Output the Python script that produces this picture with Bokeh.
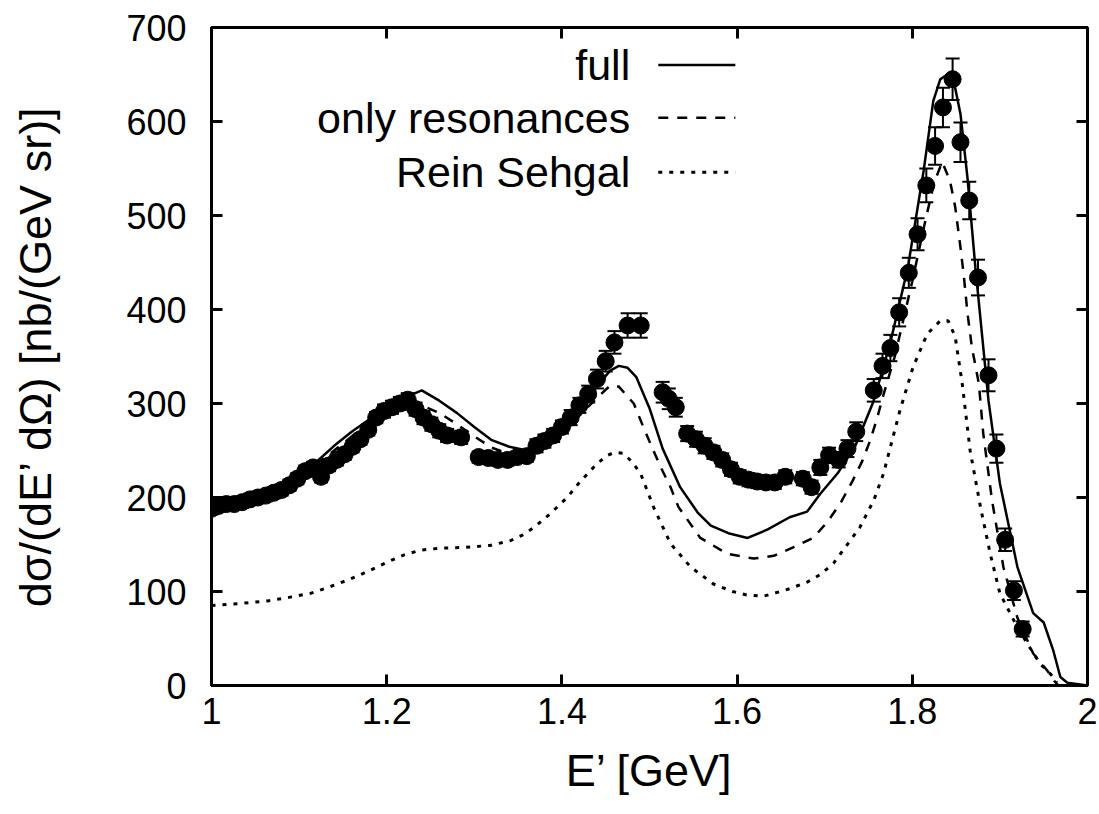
from bokeh.plotting import figure
from bokeh.models import Range1d, LinearAxis, FixedTicker, Whisker, TeeHead, ColumnDataSource, Label, CustomJSTickFormatter
from bokeh.embed import file_html
from bokeh.resources import INLINE

# ---------------- data ----------------
data_E = [1.000, 1.008, 1.017, 1.026, 1.035, 1.044, 1.053, 1.062, 1.071, 1.080,
          1.089, 1.098, 1.107, 1.116, 1.125, 1.134, 1.143, 1.152, 1.161, 1.170,
          1.179, 1.188, 1.197, 1.206, 1.215, 1.224, 1.233, 1.242, 1.251, 1.260,
          1.269, 1.285, 1.305, 1.316, 1.327, 1.338, 1.349, 1.360, 1.371, 1.380,
          1.390, 1.400, 1.410, 1.420, 1.430, 1.440, 1.450, 1.460, 1.475, 1.490,
          1.515, 1.522, 1.530, 1.543, 1.553, 1.563, 1.573, 1.583, 1.593, 1.603,
          1.613, 1.623, 1.633, 1.643, 1.655, 1.675, 1.685, 1.695, 1.705, 1.716,
          1.726, 1.736, 1.756, 1.766, 1.775, 1.785, 1.796, 1.806, 1.816, 1.826,
          1.835, 1.846, 1.855, 1.865, 1.875, 1.887, 1.896, 1.906, 1.916, 1.926]
data_v = [188, 191, 193, 193, 195, 198, 200, 202, 205, 208,
          213, 220, 228, 232, 222, 234, 240, 246, 254, 262,
          272, 285, 292, 296, 300, 304, 294, 285, 278, 271,
          266, 264, 243, 242, 240, 240, 243, 244, 255, 260,
          266, 275, 285, 298, 310, 326, 345, 365, 383, 383,
          312, 305, 296, 268, 262, 255, 248, 240, 230, 222,
          219, 217, 216, 216, 222, 220, 211, 232, 245, 240,
          252, 270, 314, 340, 359, 397, 439, 480, 532, 574,
          615, 645, 578, 516, 434, 330, 252, 155, 101, 60]
data_err = [6, 6, 6, 6, 6, 6, 6, 6, 6, 6,
            6, 6, 6, 6, 6, 6, 6, 6, 6, 6,
            6, 6, 7, 7, 7, 7, 7, 7, 7, 7,
            7, 7, 6, 6, 6, 6, 6, 6, 7, 7,
            7, 7, 8, 8, 9, 10, 11, 12, 13, 13,
            11, 11, 10, 8, 8, 8, 7, 7, 7, 7,
            7, 7, 7, 7, 7, 7, 7, 8, 8, 8,
            9, 10, 12, 13, 14, 15, 16, 17, 18, 20,
            21, 22, 21, 20, 19, 17, 15, 12, 10, 8]

full_E = [1.00, 1.02, 1.04, 1.06, 1.08, 1.10, 1.12, 1.14, 1.16, 1.18,
          1.20, 1.22, 1.24, 1.26, 1.28, 1.30, 1.32, 1.34, 1.36, 1.38,
          1.40, 1.42, 1.44, 1.455, 1.465, 1.475, 1.485, 1.50, 1.515, 1.535,
          1.555, 1.57, 1.59, 1.612, 1.635, 1.66, 1.68, 1.695, 1.715, 1.735,
          1.756, 1.775, 1.795, 1.813, 1.824, 1.832, 1.84, 1.848, 1.855, 1.863,
          1.872, 1.887, 1.90, 1.92, 1.938, 1.95, 1.961, 1.969, 1.977, 2.00]
full_v = [190, 194, 198, 204, 212, 222, 238, 255, 270, 283,
          296, 306, 314, 303, 290, 275, 261, 254, 250, 256,
          270, 292, 318, 335, 340, 338, 328, 295, 252, 211,
          184, 170, 162, 157, 166, 179, 185, 204, 226, 255,
          303, 365, 445, 548, 622, 645, 650, 640, 608, 540,
          445, 303, 215, 126, 77, 67, 37, 9, 3, 0]

res_E = [1.00, 1.02, 1.04, 1.06, 1.08, 1.10, 1.12, 1.14, 1.16, 1.18,
         1.20, 1.22, 1.24, 1.26, 1.28, 1.30, 1.32, 1.34, 1.36, 1.38,
         1.40, 1.42, 1.44, 1.455, 1.465, 1.482, 1.493, 1.503, 1.513, 1.524,
         1.533, 1.558, 1.589, 1.619, 1.642, 1.664, 1.687, 1.703, 1.718, 1.732,
         1.743, 1.752, 1.76, 1.767, 1.78, 1.80, 1.815, 1.825, 1.834, 1.843,
         1.849, 1.855, 1.859, 1.863, 1.868, 1.876, 1.881, 1.891, 1.904, 1.92,
         1.938, 1.954, 1.962, 1.967]
res_v = [190, 194, 198, 204, 212, 222, 236, 250, 265, 280,
         293, 302, 298, 290, 278, 265, 253, 246, 246, 254,
         268, 287, 306, 319, 318, 300, 275, 253, 232, 211,
         190, 157, 140, 135, 138, 147, 157, 174, 194, 218,
         239, 261, 285, 309, 350, 430, 495, 535, 557, 537,
         509, 466, 434, 396, 360, 321, 268, 197, 126, 72,
         34, 16, 5, 0]

rs_E = [1.00, 1.03, 1.064, 1.09, 1.113, 1.135, 1.155, 1.18, 1.20, 1.22,
        1.239, 1.26, 1.29, 1.318, 1.341, 1.355, 1.368, 1.387, 1.406, 1.42,
        1.436, 1.45, 1.46, 1.47, 1.48, 1.49, 1.505, 1.524, 1.547, 1.573,
        1.595, 1.612, 1.63, 1.642, 1.66, 1.68, 1.695, 1.71, 1.729, 1.74,
        1.756, 1.767, 1.786, 1.801, 1.817, 1.832, 1.841, 1.849, 1.857, 1.866,
        1.878, 1.889, 1.90, 1.916, 1.931, 1.946, 1.958, 1.965]
rs_v = [85, 87, 90, 94, 98, 105, 112, 122, 131, 139,
        144, 146, 147, 149, 154, 160, 168, 183, 200, 216,
        232, 244, 248, 247, 238, 225, 189, 151, 126, 108,
        100, 96, 95, 98, 103, 110, 118, 130, 154, 168,
        197, 225, 293, 339, 374, 388, 388, 371, 321, 250,
        189, 140, 98, 69, 45, 23, 12, 3]

x_ticks = [1.0, 1.2, 1.4, 1.6, 1.8, 2.0]
y_ticks = [0, 100, 200, 300, 400, 500, 600, 700]
legend_labels = ["full", "only resonances", "Rein Sehgal"]

# ---------------- style ----------------
FONT = "Liberation Sans"
TICK_FS = "36px"
LAB_FS = "45px"
LEG_FS = "43px"
DASH = "10 9"
DOT = "4 7"

p = figure(width=1099, height=814, x_range=Range1d(1, 2), y_range=Range1d(0, 700),
           output_backend="svg", toolbar_location=None,
           min_border_left=211, min_border_right=12, min_border_top=27, min_border_bottom=129,
           x_axis_label="E’ [GeV]", y_axis_label="dσ/(dE’ dΩ) [nb/(GeV sr)]")
p.grid.visible = False
p.outline_line_color = "black"
p.outline_line_width = 3
p.background_fill_color = "white"
p.border_fill_color = "white"

fmt = CustomJSTickFormatter(code="return tick.toFixed(1).replace(/\\.0$/, '');")

for ax in p.xaxis:
    ax.ticker = FixedTicker(ticks=x_ticks)
    ax.formatter = fmt
for ax in p.yaxis:
    ax.ticker = FixedTicker(ticks=y_ticks)

for ax in list(p.xaxis) + list(p.yaxis):
    ax.axis_line_width = 3
    ax.major_tick_in = 11
    ax.major_tick_out = 0
    ax.major_tick_line_width = 3
    ax.minor_tick_line_color = None
    ax.major_label_text_font = FONT
    ax.major_label_text_font_size = TICK_FS
    ax.major_label_text_color = "black"
    ax.axis_label_text_font = FONT
    ax.axis_label_text_font_size = LAB_FS
    ax.axis_label_text_font_style = "normal"
    ax.axis_label_text_color = "black"

p.yaxis.major_label_standoff = 25
p.yaxis.axis_label_standoff = 62
p.xaxis.major_label_standoff = 12
p.xaxis.axis_label_standoff = 18

# mirror axes (ticks only)
top = LinearAxis(ticker=FixedTicker(ticks=x_ticks), major_label_text_font_size="0px",
                 major_tick_in=11, major_tick_out=0, major_tick_line_width=3,
                 axis_line_width=3, minor_tick_line_color=None, major_label_standoff=0)
right = LinearAxis(ticker=FixedTicker(ticks=y_ticks), major_label_text_font_size="0px",
                   major_tick_in=11, major_tick_out=0, major_tick_line_width=3,
                   axis_line_width=3, minor_tick_line_color=None, major_label_standoff=0)
p.add_layout(top, "above")
p.add_layout(right, "right")

# curves
p.line(full_E, full_v, line_color="black", line_width=2.5)
p.line(res_E, res_v, line_color="black", line_width=2.5, line_dash=DASH)
p.line(rs_E, rs_v, line_color="black", line_width=3, line_dash=DOT)

# data with error bars
src = ColumnDataSource(dict(x=data_E, y=data_v,
                            lo=[v - e for v, e in zip(data_v, data_err)],
                            hi=[v + e for v, e in zip(data_v, data_err)]))
wh = Whisker(source=src, base="x", upper="hi", lower="lo", line_color="black", line_width=2,
             upper_head=TeeHead(size=14, line_color="black", line_width=2),
             lower_head=TeeHead(size=14, line_color="black", line_width=2))
p.add_layout(wh)
p.scatter(x="x", y="y", source=src, size=17, marker="circle", fill_color="black", line_color="black")

# legend (gnuplot style: label, then sample line)
LEG_TEXT_X = 1.478
LEG_LINE_X0, LEG_LINE_X1 = 1.510, 1.598
LEG_Y = [660, 604, 546]
styles = [dict(line_dash="solid", line_width=2.5), dict(line_dash=DASH, line_width=2.5),
          dict(line_dash=DOT, line_width=3)]
for lab, yy, st in zip(legend_labels, LEG_Y, styles):
    p.add_layout(Label(x=LEG_TEXT_X, y=yy, text=lab, text_align="right", text_baseline="middle",
                       text_font=FONT, text_font_size=LEG_FS, text_color="black"))
    p.line([LEG_LINE_X0, LEG_LINE_X1], [yy, yy], line_color="black", **st)

open("out.html", "w").write(file_html(p, INLINE))
